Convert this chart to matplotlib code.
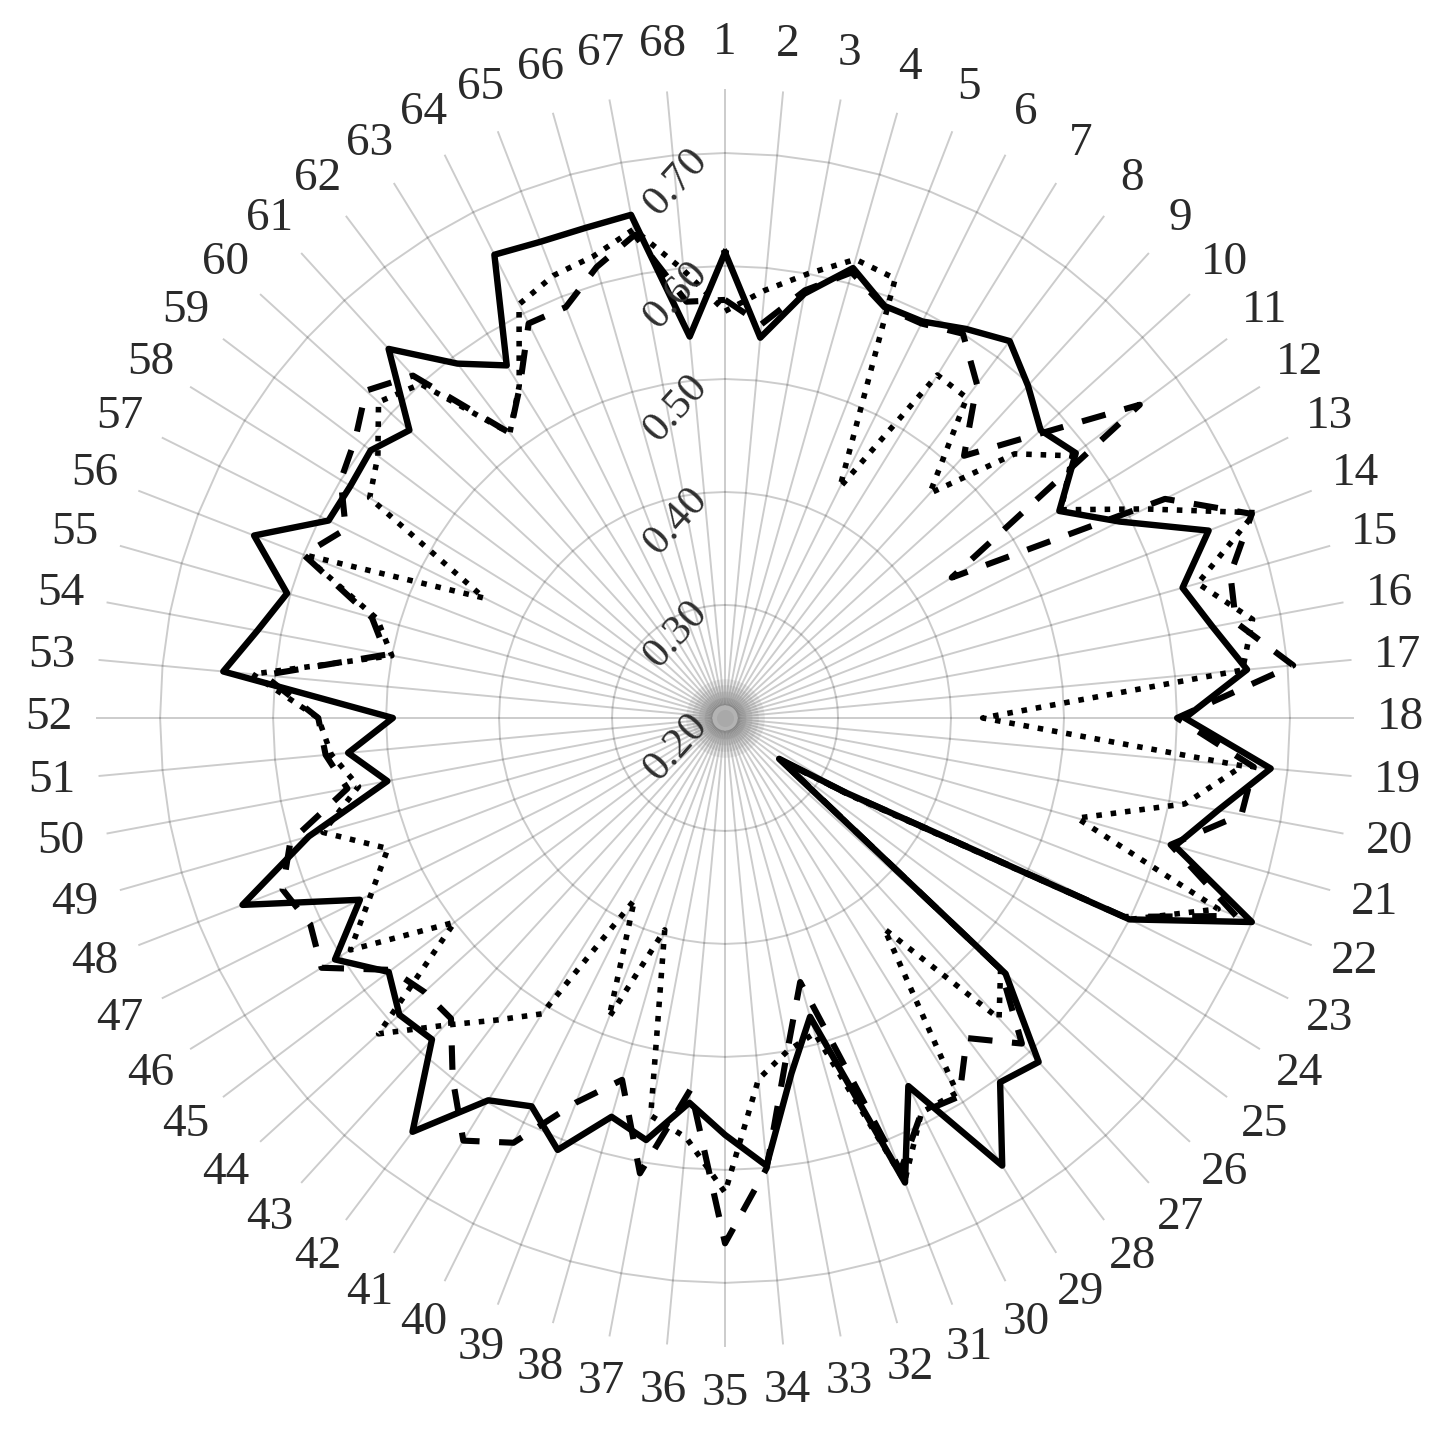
import numpy as np
import matplotlib
matplotlib.use("Agg")
import matplotlib.pyplot as plt

# categories 1..68, radial axis 0.20 - 0.70
categories = [str(i) for i in range(1, 69)]
ring_levels = [0.20, 0.30, 0.40, 0.50, 0.60, 0.70]

solid = [0.612, 0.538, 0.582, 0.614, 0.591, 0.592, 0.605, 0.618, 0.598, 0.578,
         0.589, 0.548, 0.590, 0.659, 0.621, 0.639, 0.664, 0.607, 0.685, 0.644,
         0.614, 0.700, 0.600, 0.325, 0.260, 0.536, 0.612, 0.604, 0.666, 0.564,
         0.641, 0.475, 0.520, 0.598, 0.569, 0.542, 0.580, 0.567, 0.610, 0.584,
         0.598, 0.659, 0.585, 0.590, 0.573, 0.606, 0.561, 0.658, 0.583, 0.504,
         0.535, 0.494, 0.646, 0.621, 0.603, 0.647, 0.592, 0.590, 0.593, 0.578,
         0.642, 0.593, 0.567, 0.658, 0.652, 0.651, 0.653, 0.539]

dotted = [0.560, 0.580, 0.600, 0.622, 0.617, 0.428, 0.557, 0.555, 0.469, 0.547,
          0.585, 0.550, 0.615, 0.703, 0.635, 0.675, 0.660, 0.428, 0.660, 0.614,
          0.524, 0.668, 0.600, 0.330, 0.262, 0.530, 0.560, 0.434, 0.590, 0.590,
          0.640, 0.490, 0.500, 0.521, 0.620, 0.573, 0.558, 0.395, 0.484, 0.380,
          0.508, 0.535, 0.568, 0.615, 0.500, 0.590, 0.550, 0.520, 0.570, 0.530,
          0.550, 0.560, 0.620, 0.500, 0.520, 0.600, 0.438, 0.570, 0.585, 0.615,
          0.600, 0.516, 0.546, 0.609, 0.620, 0.625, 0.640, 0.598]

dashed = [0.570, 0.550, 0.585, 0.610, 0.590, 0.590, 0.600, 0.570, 0.514, 0.572,
          0.660, 0.436, 0.635, 0.700, 0.665, 0.660, 0.705, 0.600, 0.670, 0.665,
          0.610, 0.685, 0.595, 0.325, 0.262, 0.530, 0.590, 0.555, 0.594, 0.590,
          0.630, 0.443, 0.500, 0.600, 0.665, 0.530, 0.610, 0.533, 0.565, 0.620,
          0.640, 0.600, 0.560, 0.560, 0.570, 0.620, 0.610, 0.620, 0.600, 0.540,
          0.555, 0.560, 0.610, 0.505, 0.525, 0.600, 0.575, 0.600, 0.610, 0.630,
          0.610, 0.516, 0.545, 0.590, 0.590, 0.615, 0.635, 0.570]

n = len(categories)
theta = np.linspace(0, 2 * np.pi, n, endpoint=False)
theta_c = np.append(theta, theta[0])

fig = plt.figure(figsize=(14.44, 14.44), dpi=100)
ax = fig.add_axes([0.0561, 0.0568, 0.892, 0.892], projection='polar')
ax.set_theta_zero_location('N')
ax.set_theta_direction(-1)
ax.set_ylim(0.2, 0.77)
ax.grid(False)
ax.spines['polar'].set_visible(False)
ax.set_xticks([])
ax.set_yticks([])

# spokes and polygon rings (Excel style)
for t in theta:
    ax.plot([t, t], [0.212, 0.756], color='black', alpha=0.2, lw=1.4, zorder=1)
for lv in ring_levels[1:]:
    ax.plot(theta_c, [lv] * (n + 1), color='black', alpha=0.2, lw=1.4, zorder=1)
# soft grey smudge where the spokes meet
for s in [3200, 2300, 1500, 900, 450, 150]:
    ax.scatter([0], [0.2], s=s, color='#5a5a5a', alpha=0.11, lw=0, zorder=1)

# series
ax.plot(theta_c, dotted + dotted[:1], color='black', lw=4.0,
        linestyle=(0, (1, 1.6)), dash_capstyle='butt', zorder=3)
ax.plot(theta_c, dashed + dashed[:1], color='black', lw=4.4,
        linestyle=(0, (4, 3.2)), dash_capstyle='butt', zorder=4)
ax.plot(theta_c, solid + solid[:1], color='black', lw=4.6, zorder=5)

# category labels
for t, lab in zip(theta, categories):
    ax.text(t, 0.798, lab, ha='center', va='center', fontsize=34,
            family='Liberation Serif', color='#2a2a2a', clip_on=False)

# radial labels
for lv in ring_levels:
    ax.annotate(f'{lv:.2f}', xy=(0, lv), xytext=(-49, -29),
                textcoords='offset pixels', rotation=48, ha='center',
                va='center', fontsize=31, family='Liberation Serif',
                color='#303030', zorder=6)

fig.savefig('out.png', dpi=100, facecolor='white')
